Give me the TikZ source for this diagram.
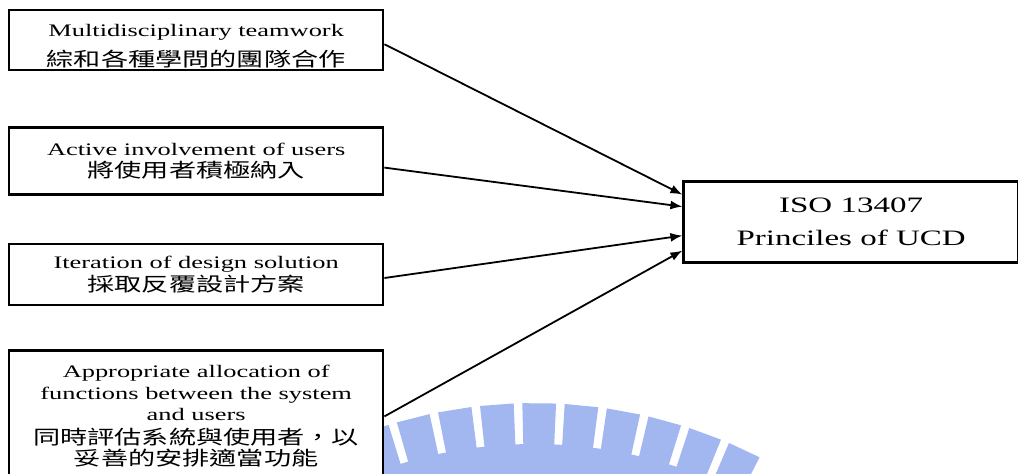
\documentclass[tikz,border=0pt]{standalone}
\usepackage{fontspec}
\setmainfont{Liberation Serif}[FakeStretch=1.5]
\newfontfamily\cjk{Noto Sans CJK TC}[FakeStretch=1.4]
\usetikzlibrary{arrows.meta, positioning, calc}
\definecolor{gearblue}{RGB}{162,182,240}
\newcommand{\zh}[1]{{\cjk\fontsize{9.7}{10.75}\selectfont #1}}
\tikzset{
    principle/.style={rectangle, draw, line width=1.2pt, fill=white, minimum width=187pt,
                      align=center, inner sep=2pt, font=\fontsize{8.8}{10.75}\selectfont},
    ucdbox/.style={rectangle, draw, line width=1.2pt, fill=white, minimum width=167.5pt,
                   minimum height=40.5pt, align=center, font=\fontsize{11}{16.5}\selectfont},
    arrow/.style={-{Latex[length=6pt, width=4.5pt]}, line width=0.9pt},
    gear/.style={fill=gearblue, draw=none},
}

\begin{document}
\begin{tikzpicture}
    \useasboundingbox (0,0) rectangle (509pt,-236.5pt);

    % ── GEAR (background) ──
    \begin{scope}[x=0.5pt, y=-0.5pt]
        \coordinate (gc) at (534,899);
        \fill[gear] (gc) circle[radius=227.5pt];
        \foreach \a in {-23.9,-19,...,25.2} {
            \fill[gear] ($(gc)+(\a-91.95:450)$) -- ($(gc)+(\a-91.95:496)$)
                -- ($(gc)+(\a-88.05:496)$) -- ($(gc)+(\a-88.05:450)$) -- cycle;
        }
    \end{scope}

    % ── PRINCIPLES ──
    \node[principle, text height=26pt, text depth=0pt, anchor=north west] (m1) at (4pt,-4.5pt)
        {Multidisciplinary teamwork\\[4pt]\zh{綜和各種學問的團隊合作}};
    \node[principle, minimum height=33.5pt, below=27.5pt of m1] (m2)
        {Active involvement of users\\\zh{將使用者積極納入}};
    \node[principle, minimum height=30.5pt, below=23.5pt of m2] (m3)
        {Iteration of design solution\\[1pt]\zh{採取反覆設計方案}};
    \node[principle, minimum height=66pt, below=21.5pt of m3] (m4)
        {Appropriate allocation of\\functions between the system\\and users\\[1pt]%
         \zh{同時評估系統與使用者，以}\\\zh{妥善的安排適當功能}};

    % ── ISO 13407 ──
    \node[ucdbox, right=149pt of m2, yshift=-30.5pt] (ucd) {ISO 13407\\Princiles of UCD};

    % ── ARROWS ──
    \draw[arrow] ([yshift=-2pt]m1.east) -- ([yshift=13.75pt]ucd.west);
    \draw[arrow] ([yshift=-3.25pt]m2.east) -- ([yshift=7.75pt]ucd.west);
    \draw[arrow] ([yshift=-1.75pt]m3.east) -- ([yshift=-6.75pt]ucd.west);
    \draw[arrow] (m4.east) -- ([yshift=-14.25pt]ucd.west);

\end{tikzpicture}
\end{document}
